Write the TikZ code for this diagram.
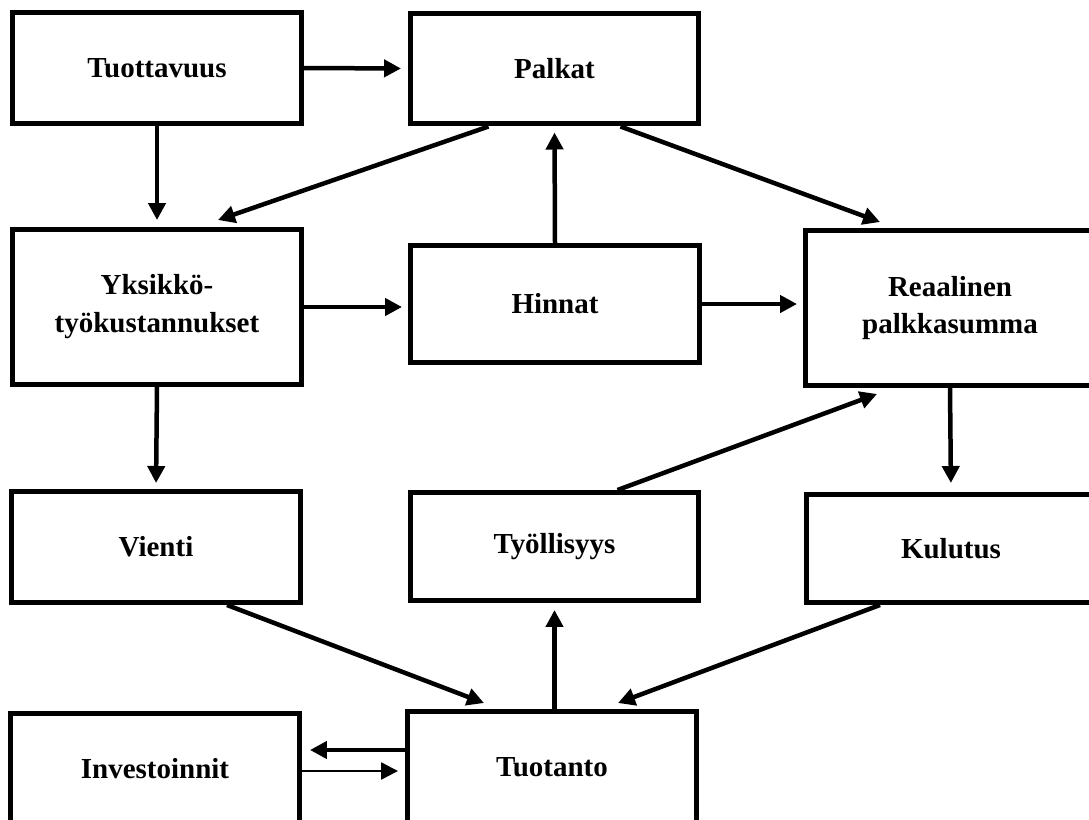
\documentclass[tikz,border=0pt]{standalone}
\usepackage{fontspec}
\setmainfont{Liberation Serif}
\usetikzlibrary{positioning, calc, arrows.meta}

\begin{document}
\begin{tikzpicture}[x=0.02cm, y=-0.02cm,
    box/.style={draw, line width=0.1cm, minimum width=5.78cm, align=center,
        font=\fontsize{16.5}{21.6}\selectfont\bfseries},
    low/.style={box, minimum height=2.22cm},
    mid/.style={box, minimum height=2.16cm},
    tall/.style={box, minimum height=3.1cm},
    arr/.style={-{Triangle[length=0.34cm, width=0.34cm]}, line width=0.09cm},
    thinarr/.style={arr, line width=0.05cm}]

\clip (0,0) rectangle (1089,819);

\node[low] (tuott) at (157,68) {Tuottavuus};
\node[low] (palkat) at (554.5,68.5) {Palkat};
\node[tall] (yks) at (157,307) {Yksikkö-\\työkustannukset};
\node[box, minimum height=2.34cm] (hinnat) at (555,304) {Hinnat};
\node[tall] (reaal) at (950,308) {Reaalinen\\palkkasumma};
\node[low] (vienti) at (156,547) {Vienti};
\node[mid] (tyoll) at (554.5,546.5) {Työllisyys};
\node[mid] (kulutus) at (951,548.5) {Kulutus};
\node[low] (invest) at (155,769) {Investoinnit};
\node[low] (tuotanto) at (552,767) {Tuotanto};

\draw[arr, shorten >=0.13cm] (tuott.east) -- (palkat.west);
\draw[arr, shorten >=0.14cm] (tuott.south) -- (yks.north);
\draw[arr] ($(palkat.south)+(-66,0)$) -- ($(yks.north)+(61,-7)$);
\draw[arr] ($(palkat.south)+(66,0)$) -- ($(reaal.north)+(-70,-6)$);
\draw[arr, shorten >=0.12cm] (hinnat.north) -- (palkat.south);
\draw[arr, shorten >=0.12cm] (yks.east) -- (yks.east -| hinnat.west);
\draw[arr, shorten >=0.12cm] (hinnat.east) -- (hinnat.east -| reaal.west);
\draw[arr, shorten >=0.12cm] (yks.south) -- (vienti.north);
\draw[arr, shorten >=0.18cm] (reaal.south) -- (kulutus.north);
\draw[arr] ($(tyoll.north)+(63,0)$) -- ($(reaal.south)+(-73,6)$);
\draw[arr] ($(vienti.south)+(71,0)$) -- ($(tuotanto.north)+(-68,-6)$);
\draw[arr] ($(kulutus.south)+(-71,0)$) -- ($(tuotanto.north)+(66,-6)$);
\draw[arr, shorten >=0.14cm] (tyoll.south |- tuotanto.north) -- (tyoll.south);
\draw[arr, shorten >=0.16cm] ([yshift=0.34cm]tuotanto.west) -- ([yshift=0.34cm]tuotanto.west -| invest.east);
\draw[thinarr, shorten >=0.14cm] ([yshift=-0.04cm]invest.east) -- ([yshift=-0.04cm]invest.east -| tuotanto.west);

\end{tikzpicture}
\end{document}
